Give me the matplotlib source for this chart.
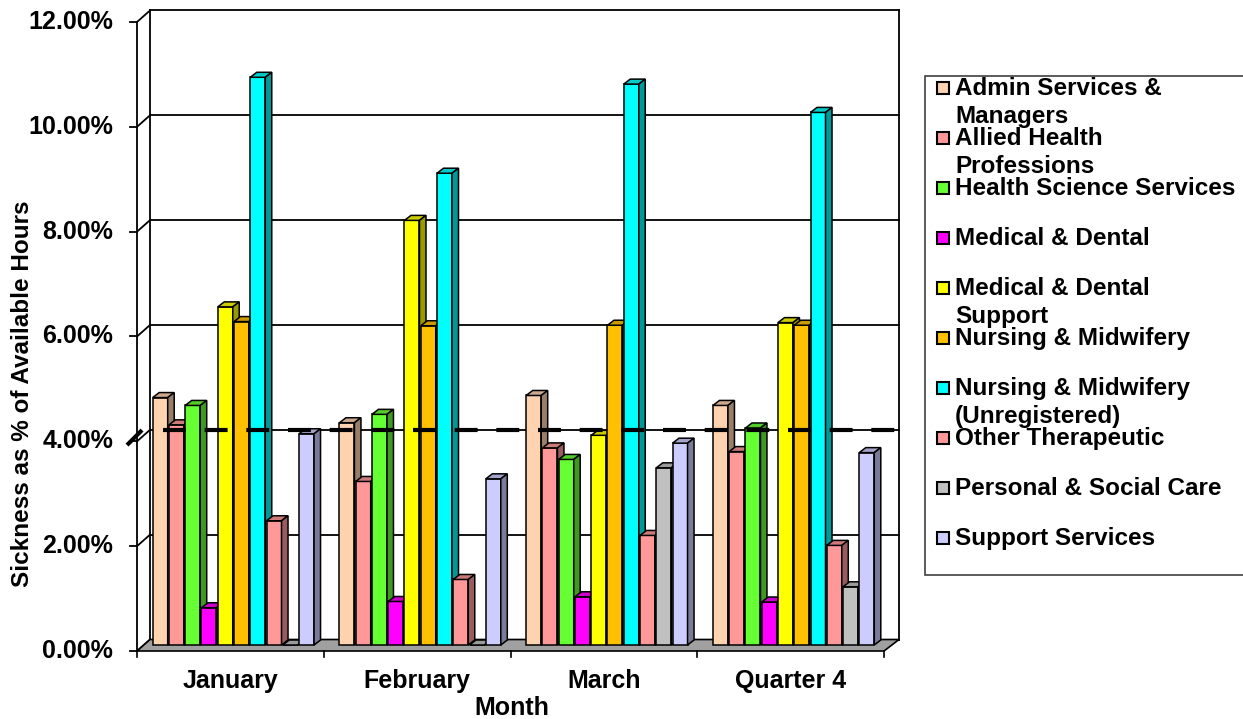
import numpy as np
import matplotlib
matplotlib.use("Agg")
import matplotlib.pyplot as plt
from matplotlib.patches import Polygon
from matplotlib.transforms import Affine2D

plt.rcParams['font.family'] = ['Liberation Sans', 'DejaVu Sans']
plt.rcParams['font.weight'] = 'bold'

# data (sickness as % of available hours)
months = ["January", "February", "March", "Quarter 4"]
staff_groups = ["Admin Services &\nManagers", "Allied Health\nProfessions",
                "Health Science Services", "Medical & Dental",
                "Medical & Dental\nSupport", "Nursing & Midwifery",
                "Nursing & Midwifery\n(Unregistered)", "Other Therapeutic",
                "Personal & Social Care", "Support Services"]
admin = [4.72, 4.24, 4.76, 4.57]
allied = [4.20, 3.12, 3.76, 3.69]
health_sci = [4.57, 4.40, 3.54, 4.14]
medical = [0.71, 0.83, 0.92, 0.82]
med_support = [6.45, 8.10, 4.00, 6.15]
nursing = [6.17, 6.09, 6.10, 6.10]
nursing_unreg = [10.83, 9.00, 10.70, 10.16]
other_ther = [2.37, 1.25, 2.09, 1.90]
personal = [0.0, 0.0, 3.38, 1.11]
support = [4.03, 3.17, 3.85, 3.67]
target = 4.1
yticks = [0, 2, 4, 6, 8, 10, 12]

series = [admin, allied, health_sci, medical, med_support, nursing,
          nursing_unreg, other_ther, personal, support]
colors = ['#FFD3B0', '#FF9999', '#66FF33', '#FF00FF', '#FFFF00', '#FFC000',
          '#00FFFF', '#FF9999', '#C0C0C0', '#CCCCFF']

W, H = 1243, 719
PXX, PXY = 186.75, 52.42      # pixels per category / per 1%
X0, Y0 = 230.4, 645           # pixel of first category centre / bar base

fig = plt.figure(figsize=(W / 100, H / 100), dpi=100)
ax = fig.add_axes([0, 0, 1, 1])
ax.set_xlim(-X0 / PXX, (W - X0) / PXX)
ax.set_ylim((Y0 - H) / PXY, Y0 / PXY)
ax.axis('off')

# pixel transform for legend (origin top left)
pix = Affine2D().scale(1 / W, -1 / H).translate(0, 1) + fig.transFigure


def ddx(p):
    return p / PXX


def ddy(p):
    return p / PXY


front = -ddy(6)
back = ddy(5.5)
xl, xr = -0.5, len(months) - 0.5
bxl, bxr = xl + ddx(13), xr + ddx(15)
lw_grid = 1.3

# back wall + gridlines
for v in yticks:
    ax.plot([bxl, bxr], [v + back, v + back], color='black', lw=lw_grid, zorder=1)
    ax.plot([xl, bxl], [v + front, v + back], color='black', lw=lw_grid, zorder=1)
    ax.plot([xl - ddx(7), xl], [v + front, v + front], color='black', lw=lw_grid, zorder=1)
    ax.text(xl - ddx(24), v + front, f"{v:.2f}%", ha='right', va='center',
            fontsize=18, fontweight='bold')
top = yticks[-1]
ax.plot([bxl, bxl], [back, top + back], color='black', lw=lw_grid, zorder=1)
ax.plot([bxr, bxr], [back, top + back], color='black', lw=lw_grid, zorder=1)
ax.plot([xl, xl], [front, top + front], color='black', lw=lw_grid, zorder=1)

# floor
ax.add_patch(Polygon([[xl, front], [xr, front], [bxr, back], [bxl, back]],
                     closed=True, facecolor='#A0A0A0', edgecolor='black',
                     lw=1.2, zorder=2))
for i in range(len(months) + 1):
    ax.plot([xl + i, xl + i], [front, front - ddy(6)], color='black', lw=1.2, zorder=2)

# 3d-looking bars
pitch, bw = ddx(16.26), ddx(15)
first = -ddx(77.7)
sx, sy = ddx(6.5), ddy(5)
z = 3
for i, m in enumerate(months):
    for k, (vals, c) in enumerate(zip(series, colors)):
        v = vals[i]
        x = i + first + k * pitch
        rgb = np.array(matplotlib.colors.to_rgb(c))
        ax.bar(x, v, width=bw, align='edge', color=c, edgecolor='black',
               lw=1.1, zorder=z)
        ax.add_patch(Polygon([[x, v], [x + sx, v + sy], [x + bw + sx, v + sy], [x + bw, v]],
                             closed=True, facecolor=rgb * 0.8, edgecolor='black',
                             lw=1.1, zorder=z))
        ax.add_patch(Polygon([[x + bw, 0], [x + bw + sx, sy], [x + bw + sx, v + sy], [x + bw, v]],
                             closed=True, facecolor=rgb * 0.6, edgecolor='black',
                             lw=1.1, zorder=z))
        z += 1
    ax.text(i, ddy(-36), m, ha='center', va='center', fontsize=18, fontweight='bold')

# target line
ax.plot([-ddx(67.4), bxr], [target, target], color='black', lw=3, zorder=200,
        linestyle=(0, (5.5, 4.5)), dash_capstyle='butt')
ax.plot([xl - ddx(10), xl + ddx(5)], [target - ddy(15), target], color='black',
        lw=3, zorder=200, solid_capstyle='butt')

ax.text(ddx(512 - X0), ddy(Y0 - 708), "Month", ha='center', va='center',
        fontsize=18, fontweight='bold')
ax.text(ddx(22 - X0), ddy(Y0 - 394), "Sickness as % of Available Hours",
        ha='center', va='center', rotation=90, fontsize=17.5, fontweight='bold')

# legend box
fig.patches.append(Polygon([[925, 76], [1250, 76], [1250, 575], [925, 575]],
                           closed=True, transform=pix, facecolor='white',
                           edgecolor='#404040', lw=1.2, zorder=5))
for k, (name, c) in enumerate(zip(staff_groups, colors)):
    yc = 88 + 50 * k
    fig.patches.append(Polygon([[937, yc - 6], [949, yc - 6], [949, yc + 6], [937, yc + 6]],
                               closed=True, transform=pix, facecolor=c,
                               edgecolor='black', lw=1.5, zorder=6))
    for j, line in enumerate(name.split("\n")):
        fig.text(955, yc + 7 + 28 * j, line, transform=pix, ha='left', va='baseline',
                 fontsize=17.5, fontweight='bold', zorder=7)

fig.savefig("out.png", dpi=100)
